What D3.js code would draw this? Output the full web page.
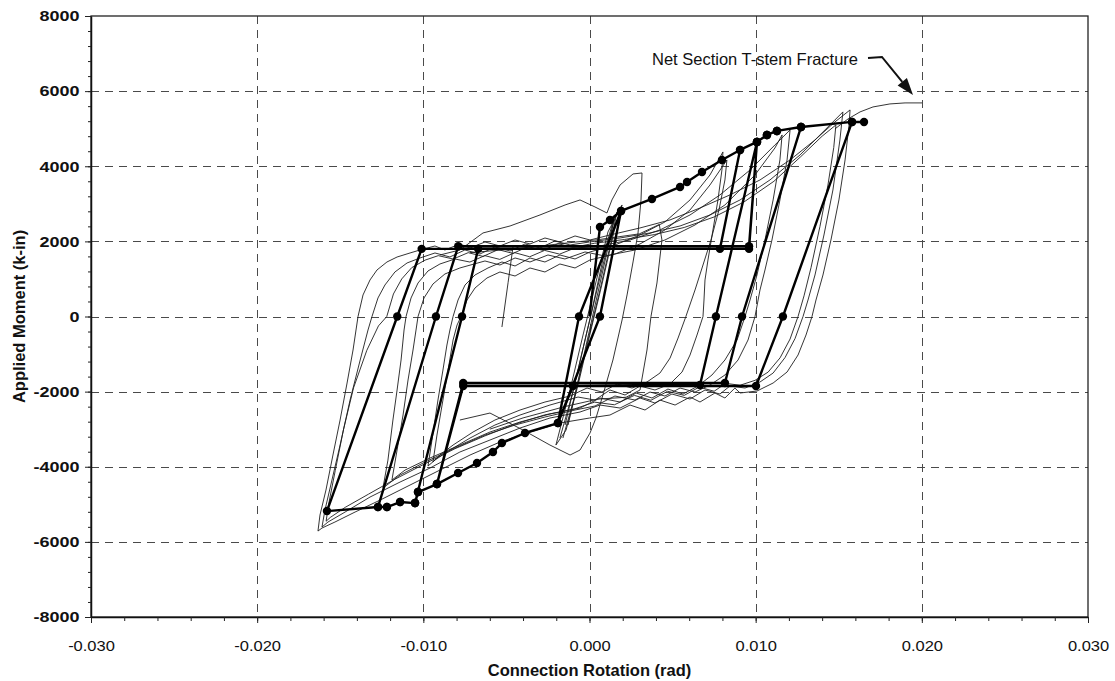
<!DOCTYPE html>
<html>
<head>
<meta charset="utf-8">
<script src="https://cdn.jsdelivr.net/npm/d3@7"></script>
<style>
  html, body { margin: 0; padding: 0; background: #ffffff; }
  svg { display: block; font-family: "Liberation Sans", Arial, Helvetica, sans-serif; }
</style>
</head>
<body>
<svg id="chart" width="1115" height="681"></svg>
<script>
// ---------------- axis ticks ----------------
const xTicks = [-0.03, -0.02, -0.01, 0, 0.01, 0.02, 0.03];
const yTicks = [-8000, -6000, -4000, -2000, 0, 2000, 4000, 6000, 8000];
const xGrid = [-0.02, -0.01, 0, 0.01, 0.02];
const yGrid = [-6000, -4000, -2000, 0, 2000, 4000, 6000];

// ---------------- measured response (rotation rad, moment k-in) ----------------
// small elastic cycles
const cycleS1 = [[-0.00178,-3236],[-0.00105,-2090],[-0.00027,-626],[0.00045,706],[0.00123,2144],[0.00165,2783],
  [0.00135,2090],[0.00063,706],[-0.00009,-626],[-0.00087,-2090],[-0.0016,-3236]];
const cycleS2 = [[-0.00202,-3422],[-0.00117,-1957],[-0.00039,-493],[0.00039,919],[0.00111,2250],[0.00196,2969],
  [0.00147,2250],[0.00081,972],[0.00003,-466],[-0.00069,-1824],[-0.00141,-3023],[-0.00202,-3422]];
const cycleS3 = [[-0.00147,-2889],[-0.00069,-1425],[0.00015,173],[0.00093,1771],[0.00153,2703],
  [0.00111,1824],[0.00027,173],[-0.00051,-1371],[-0.00129,-2889]];

// first inelastic excursions
const cycleA1 = [[-0.009,1638],[-0.0078,1771],[-0.00641,2224],[-0.00478,2410],[-0.00298,2703],[-0.00147,2969],
  [-0.00057,3103],[0.00033,2916],[0.00105,2756],[0.00135,3103],[0.00184,3502],[0.00262,3795],[0.00316,3821],
  [0.0031,3103],[0.00292,2224],[0.00262,1451],[0.00226,573],[0.00196,-93],[0.00141,-1158],[0.00081,-2090],
  [0.00039,-2703],[0.00003,-3103],[-0.00057,-3555],[-0.00117,-3688],[-0.00238,-3422],[-0.004,-3023],
  [-0.00599,-2570],[-0.0078,-2756]];
const cycleA2 = [[-0.0072,1700],[-0.0045,1800],[-0.0015,1950],[0.0006,2050],[0.003,2200],[0.0042,2450],
  [0.00436,2037],[0.00406,892],[0.0037,0],[0.00346,-892],[0.00304,-1957],[0.0022,-2150],[0.0005,-2200],
  [-0.0015,-2400],[-0.004,-2700],[-0.006,-3000]];
const glitch = [[-0.0046,1864],[-0.0049,900],[-0.00527,-280]];

// cycles near 0.008 rad
const cycleB1 = [[0.00803,4381],[0.00797,3901],[0.00773,3103],[0.00743,2304],[0.00713,1505],[0.00695,972],
  [0.00689,439],[0.00683,0],[0.00647,-493],[0.00605,-1025],[0.00557,-1478],[0.00484,-1798],[0.00394,-1957],
  [0.00304,-1851],[0.00214,-2090],[0.00123,-1957],[0.00033,-2224],[-0.00069,-2144],[-0.00238,-2357],
  [-0.00418,-2623],[-0.00569,-2889],[-0.00719,-3236],[-0.0084,-3555],[-0.0093,-3822],[-0.00972,-3981],
  [-0.00948,-3289],[-0.00912,-2224],[-0.00882,-1425],[-0.00858,-759],[-0.0084,-360],[-0.00821,0],
  [-0.00791,439],[-0.00749,839],[-0.00689,1105],[-0.00611,1292],[-0.00527,1451],[-0.00448,1345],
  [-0.00358,1558],[-0.00268,1451],[-0.00178,1638],[-0.00087,1531],[0.00003,1718],[0.00153,1904],
  [0.00304,2170],[0.00454,2517],[0.00605,3103],[0.00725,3768],[0.00803,4381]];
const cycleB2 = [[0.00827,4168],[0.00815,3635],[0.00779,2836],[0.00731,2037],[0.00683,1371],[0.00635,706],
  [0.0058,0],[0.00533,-573],[0.00485,-1105],[0.00424,-1505],[0.00346,-1744],[0.00256,-1904],[0.00166,-1798],
  [0.00075,-2011],[-0.00015,-1904],[-0.00117,-2117],[-0.00268,-2277],[-0.00418,-2490],[-0.00569,-2756],
  [-0.00701,-3076],[-0.00821,-3422],[-0.009,-3688],[-0.00942,-3875],[-0.00918,-3156],[-0.00882,-2224],
  [-0.00851,-1425],[-0.00821,-626],[-0.00797,-226],[-0.00773,0],[-0.00737,439],[-0.00689,759],
  [-0.00617,1025],[-0.00539,1185],[-0.00448,1078],[-0.00358,1292],[-0.00268,1185],[-0.00178,1398],
  [-0.00087,1292],[0.00003,1505],[0.00154,1664],[0.00304,1931],[0.00454,2304],[0.00605,2836],
  [0.00725,3502],[0.00827,4168]];

// cycles near 0.012 rad
const cycleC1 = [[0.01207,4967],[0.01189,4168],[0.01146,3103],[0.01098,2037],[0.01056,1238],[0.01026,706],
  [0.00996,0],[0.00954,-626],[0.00894,-1158],[0.00815,-1558],[0.00725,-1824],[0.00635,-2011],[0.00545,-1904],
  [0.00454,-2117],[0.00364,-2011],[0.00274,-2224],[0.00153,-2117],[0.00033,-2383],[-0.00087,-2490],
  [-0.00268,-2676],[-0.00448,-2889],[-0.00629,-3156],[-0.00809,-3502],[-0.0099,-3875],[-0.0114,-4221],
  [-0.01243,-4567],[-0.01213,-3822],[-0.01183,-2756],[-0.01158,-1957],[-0.01134,-1158],[-0.01116,-360],
  [-0.01104,0],[-0.01074,493],[-0.01032,892],[-0.00972,1212],[-0.009,1398],[-0.0081,1531],[-0.0072,1450],
  [-0.0063,1620],[-0.0054,1520],[-0.0045,1700],[-0.0036,1590],[-0.0027,1760],[-0.0018,1660],[-0.0009,1820],
  [0.00063,1878],[0.00244,2037],[0.00424,2304],[0.00605,2703],[0.00785,3236],[0.00966,3901],[0.01116,4567],
  [0.01207,4967]];
const cycleC2 = [[0.01159,4834],[0.01146,4168],[0.01105,3103],[0.01056,2037],[0.01008,1105],[0.00966,439],
  [0.00936,0],[0.00888,-626],[0.00815,-1158],[0.00737,-1558],[0.00653,-1851],[0.00563,-2064],[0.00472,-1931],
  [0.00376,-2170],[0.0028,-2037],[0.00184,-2277],[0.00063,-2170],[-0.00057,-2437],[-0.00238,-2596],
  [-0.00418,-2809],[-0.00599,-3076],[-0.0078,-3422],[-0.0096,-3768],[-0.0111,-4088],[-0.01189,-4354],
  [-0.01158,-3555],[-0.01122,-2623],[-0.01092,-1691],[-0.01062,-892],[-0.01044,-360],[-0.01032,0],
  [-0.00996,493],[-0.00942,866],[-0.0087,1132],[-0.0078,1292],[-0.00629,1478],[-0.00539,1371],
  [-0.00448,1558],[-0.00358,1451],[-0.0025,1638],[-0.00148,1531],[-0.00027,1718],[0.00093,1611],
  [0.00274,1771],[0.00454,2037],[0.00635,2437],[0.00815,2970],[0.00996,3768],[0.01116,4487],[0.01159,4834]];

// cycles near 0.016 rad
const cycleD1 = [[0.01568,5499],[0.01562,5100],[0.01538,4168],[0.01501,3103],[0.01453,2037],[0.01405,1105],
  [0.01363,439],[0.01339,0],[0.01303,-493],[0.01255,-1025],[0.01189,-1478],[0.01105,-1771],[0.01008,-1984],
  [0.00906,-2037],[0.00875,-1904],[0.00815,-2170],[0.00755,-2037],[0.00665,-2277],[0.00605,-2144],
  [0.00515,-2357],[0.00424,-2224],[0.00334,-2490],[0.00244,-2357],[0.00123,-2623],[0.0,-2703],
  [-0.00178,-2836],[-0.00358,-3076],[-0.00539,-3342],[-0.00719,-3688],[-0.009,-4088],[-0.0108,-4487],
  [-0.0126,-4887],[-0.01411,-5206],[-0.01532,-5472],[-0.0161,-5632],[-0.01634,-5712],[-0.01622,-5286],
  [-0.01586,-4620],[-0.01544,-3688],[-0.01501,-2756],[-0.01459,-1771],[-0.01423,-892],[-0.01393,0],
  [-0.01363,573],[-0.01321,972],[-0.01279,1238],[-0.01219,1451],[-0.01158,1584],[-0.0108,1691],
  [-0.0102,1771],[-0.0093,1877],[-0.0087,1771],[-0.0078,1931],[-0.00719,1824],[-0.00629,1984],
  [-0.00539,1877],[-0.00448,2037],[-0.00358,1931],[-0.00268,2090],[-0.00178,1984],[-0.00087,2144],
  [0.00003,2037],[0.00123,2170],[0.00304,2357],[0.00484,2570],[0.00665,2889],[0.00845,3236],
  [0.01026,3635],[0.01207,4168],[0.01357,4700],[0.01477,5180],[0.01568,5499]];
const cycleD2 = [[0.01525,5446],[0.01507,4700],[0.01465,3369],[0.01411,2170],[0.01357,1105],[0.01315,439],
  [0.01285,0],[0.01237,-586],[0.01177,-1092],[0.01105,-1505],[0.01026,-1744],[0.00936,-1904],[0.00845,-1851],
  [0.00785,-2064],[0.00695,-1957],[0.00605,-2197],[0.00496,-2064],[0.00394,-2304],[0.00304,-2170],
  [0.00184,-2437],[0.00063,-2357],[-0.00057,-2543],[-0.00238,-2703],[-0.00418,-2970],[-0.00599,-3289],
  [-0.0078,-3608],[-0.0096,-4035],[-0.0114,-4407],[-0.01321,-4807],[-0.01471,-5206],[-0.01574,-5472],
  [-0.0161,-5606],[-0.01592,-5153],[-0.0155,-4354],[-0.01501,-3422],[-0.01441,-2224],[-0.0138,-1158],
  [-0.01333,-360],[-0.01309,0],[-0.01273,493],[-0.01231,839],[-0.01171,1185],[-0.01098,1425],[-0.0102,1558],
  [-0.0093,1691],[-0.0084,1585],[-0.0075,1771],[-0.00659,1664],[-0.00569,1851],[-0.00478,1744],
  [-0.00388,1931],[-0.00298,1824],[-0.00208,2011],[-0.00117,1904],[0.0,1984],[0.00184,2091],[0.00364,2224],
  [0.00545,2410],[0.00725,2703],[0.00906,3103],[0.01086,3635],[0.01267,4301],[0.01417,4967],[0.01525,5446]];
const cycleD3 = [[0.01483,5100],[0.0147,4500],[0.01435,3500],[0.01387,2400],[0.01333,1300],[0.01291,550],
  [0.01255,0],[0.01207,-600],[0.01147,-1100],[0.01075,-1480],[0.00996,-1700],[0.00906,-1830],[0.0082,-1780],
  [0.0075,-1990],[0.0066,-1880],[0.0057,-2100],[0.0047,-1990],[0.0037,-2230],[0.0027,-2100],[0.0015,-2350],
  [0.0003,-2280],[-0.0009,-2460],[-0.0027,-2620],[-0.0045,-2870],[-0.0063,-3180],[-0.0081,-3520],
  [-0.0099,-3920],[-0.0117,-4330],[-0.0133,-4730],[-0.0147,-5080],[-0.0156,-5350],[-0.01585,-5450],
  [-0.0157,-5000],[-0.0153,-4100],[-0.0148,-3000],[-0.0142,-1900],[-0.0134,-900],[-0.0127,-250],
  [-0.0122,0],[-0.0118,600],[-0.0113,1000],[-0.0107,1300],[-0.0099,1500],[-0.0091,1620],[-0.0082,1530],
  [-0.0073,1700],[-0.0064,1600],[-0.0055,1780],[-0.0046,1680],[-0.0037,1860],[-0.0028,1760],[-0.0019,1940],
  [-0.001,1840],[0.0003,1950],[0.0021,2050],[0.0039,2180],[0.0057,2370],[0.0075,2650],[0.0093,3050],
  [0.0111,3600],[0.0127,4250],[0.014,4800],[0.01483,5100]];
// final push to fracture
const fractureBranch = [[0.01477,4994],[0.01556,5260],[0.01628,5446],[0.01706,5579],[0.01808,5659],
  [0.01899,5686],[0.01995,5686],[0.02001,5686]];

const testCurves = [cycleS1, cycleS2, cycleS3, cycleA1, cycleA2, glitch, cycleB1, cycleB2,
  cycleC1, cycleC2, cycleD1, cycleD2, cycleD3, fractureBranch];

// ---------------- multi-linear model (rotation rad, moment k-in) ----------------
const modelPath = [
  [0,0],[0.00063,2383],[0.00123,2570],[0.0019,2810],[0.00063,0],[-0.0019,-2836],[-0.00063,0],[0.0019,2810],
  [0.00376,3129],[0.00545,3449],[0.00587,3582],[0.00677,3848],[0.00797,4168],[0.00906,4434],[0.01008,4647],
  [0.00761,0],[0.00665,-1824],[-0.001,-1850],[-0.0019,-2836],[-0.00388,-3102],[-0.00527,-3369],
  [-0.00581,-3608],[-0.00677,-3901],[-0.00791,-4168],[-0.00918,-4461],[-0.01032,-4674],[-0.0105,-4967],
  [-0.00767,0],[-0.0067,1800],[0.00785,1800],[0.00906,4434],[0.01008,4647],[0.01068,4833],[0.01128,4940],
  [0.01273,5046],[0.00918,0],[0.00815,-1771],[-0.0076,-1771],[-0.00918,-4461],[-0.01032,-4674],
  [-0.0105,-4967],[-0.0114,-4940],[-0.01219,-5073],[-0.01273,-5073],[-0.00924,0],[-0.0079,1870],
  [0.0096,1870],[0.01008,4647],[0.01068,4833],[0.01128,4940],[0.01273,5046],[0.0158,5180],[0.01164,0],
  [0.01002,-1850],[-0.0076,-1850],[-0.00918,-4461],[-0.01032,-4674],[-0.0105,-4967],[-0.0114,-4940],
  [-0.01219,-5073],[-0.01273,-5073],[-0.0158,-5180],[-0.01157,0],[-0.0101,1800],[0.0096,1800],
  [0.01008,4647],[0.01068,4833],[0.01128,4940],[0.01273,5046],[0.0158,5180],[0.01652,5180]
];

// ---------------- annotation ----------------
const noteText = "Net Section T-stem Fracture";
const noteAnchor = [0.00376, 6697];
const noteArrow = [[0.01676, 6884], [0.0176, 6910], [0.01947, 5899]];

// ---------------- drawing ----------------
const svg = d3.select("#chart");
const plot = { left: 91, right: 1088, top: 16, bottom: 617 };

const x = d3.scaleLinear().domain([-0.03, 0.03]).range([plot.left, plot.right]);
const y = d3.scaleLinear().domain([-8000, 8000]).range([plot.bottom, plot.top]);

const xMinor = d3.range(-15, 16).map(i => i * 0.002);
const yMinor = d3.range(-20, 21).map(i => i * 400);

// dashed grid
const grid = svg.append("g").attr("class", "grid")
  .attr("stroke", "#4a4a4a").attr("stroke-width", 1).attr("stroke-dasharray", "8,6").attr("fill", "none");
grid.selectAll("line.v").data(xGrid).join("line").attr("class", "v")
  .attr("x1", d => Math.round(x(d)) + 0.5).attr("x2", d => Math.round(x(d)) + 0.5)
  .attr("y1", plot.top).attr("y2", plot.bottom);
grid.selectAll("line.h").data(yGrid).join("line").attr("class", "h")
  .attr("y1", d => Math.round(y(d)) + 0.5).attr("y2", d => Math.round(y(d)) + 0.5)
  .attr("x1", plot.left).attr("x2", plot.right);

const line = d3.line().x(d => x(d[0])).y(d => y(d[1]));

// measured hysteresis
svg.append("g").attr("class", "test")
  .selectAll("path").data(testCurves).join("path")
  .attr("d", line)
  .attr("fill", "none").attr("stroke", "#1e1e1e").attr("stroke-width", 0.9)
  .attr("stroke-linejoin", "round");

// model
svg.append("path").datum(modelPath)
  .attr("d", line)
  .attr("fill", "none").attr("stroke", "#000").attr("stroke-width", 2.4)
  .attr("stroke-linejoin", "round");
svg.append("g").attr("class", "model-dots")
  .selectAll("circle").data(modelPath.slice(1)).join("circle")
  .attr("cx", d => x(d[0])).attr("cy", d => y(d[1])).attr("r", 4.2).attr("fill", "#000");

// frame
svg.append("rect")
  .attr("x", plot.left).attr("y", plot.top)
  .attr("width", plot.right - plot.left).attr("height", plot.bottom - plot.top)
  .attr("fill", "none").attr("stroke", "#222").attr("stroke-width", 1.3);

// axes
const xAxis = svg.append("g").attr("transform", `translate(0,${plot.bottom})`)
  .call(d3.axisBottom(x).tickValues(xTicks).tickSize(6).tickSizeOuter(0).tickPadding(17)
    .tickFormat(d => d.toFixed(3)));
svg.append("g").attr("transform", `translate(0,${plot.bottom})`)
  .call(d3.axisBottom(x).tickValues(xMinor).tickSize(4).tickSizeOuter(0).tickFormat(""))
  .call(g => g.select(".domain").remove());
const yAxis = svg.append("g").attr("transform", `translate(${plot.left},0)`)
  .call(d3.axisLeft(y).tickValues(yTicks).tickSize(6).tickSizeOuter(0).tickPadding(10)
    .tickFormat(d => String(d)));
svg.append("g").attr("transform", `translate(${plot.left},0)`)
  .call(d3.axisLeft(y).tickValues(yMinor).tickSize(3).tickSizeOuter(0).tickFormat(""))
  .call(g => g.select(".domain").remove());

svg.selectAll(".domain").attr("stroke", "#111").attr("stroke-width", 1.5);
svg.selectAll(".tick line").attr("stroke", "#222");

xAxis.selectAll("text")
  .attr("font-family", "'Liberation Sans', Arial, sans-serif")
  .attr("font-size", 15).attr("fill", "#111")
  .attr("transform", "scale(1.1,1)");
yAxis.selectAll("text")
  .attr("font-family", "'Liberation Sans', Arial, sans-serif")
  .attr("font-size", 15).attr("font-weight", "bold").attr("fill", "#111")
  .attr("x", -9.5).attr("transform", "scale(1.2,1)");

// axis titles
svg.append("text")
  .attr("x", (plot.left + plot.right) / 2).attr("y", 676)
  .attr("text-anchor", "middle").attr("font-size", 16.5).attr("font-weight", "bold").attr("fill", "#111")
  .text("Connection Rotation (rad)");
svg.append("text")
  .attr("transform", `translate(25,${(plot.top + plot.bottom) / 2}) rotate(-90)`)
  .attr("text-anchor", "middle").attr("font-size", 16.5).attr("font-weight", "bold").attr("fill", "#111")
  .text("Applied Moment (k-in)");

// annotation: leader line ending in a filled arrowhead
svg.append("text")
  .attr("x", x(noteAnchor[0])).attr("y", y(noteAnchor[1]))
  .attr("font-size", 16.5).attr("fill", "#111")
  .text(noteText);
const arrowPts = noteArrow.map(d => [x(d[0]), y(d[1])]);
const tip = arrowPts[arrowPts.length - 1];
const prev = arrowPts[arrowPts.length - 2];
const ang = Math.atan2(tip[1] - prev[1], tip[0] - prev[0]);
const headLen = 17, headHalf = 6;
const base = [tip[0] - headLen * Math.cos(ang), tip[1] - headLen * Math.sin(ang)];
svg.append("path").datum(noteArrow)
  .attr("d", d3.line().x(d => x(d[0])).y(d => y(d[1])).curve(d3.curveLinear)(noteArrow.slice(0, -1).concat([[x.invert(base[0]), y.invert(base[1])]])))
  .attr("fill", "none").attr("stroke", "#111").attr("stroke-width", 2);
svg.append("path")
  .attr("d", `M${tip[0]},${tip[1]}` +
    `L${base[0] + headHalf * Math.sin(ang)},${base[1] - headHalf * Math.cos(ang)}` +
    `L${base[0] - headHalf * Math.sin(ang)},${base[1] + headHalf * Math.cos(ang)}Z`)
  .attr("fill", "#111");
</script>
</body>
</html>
